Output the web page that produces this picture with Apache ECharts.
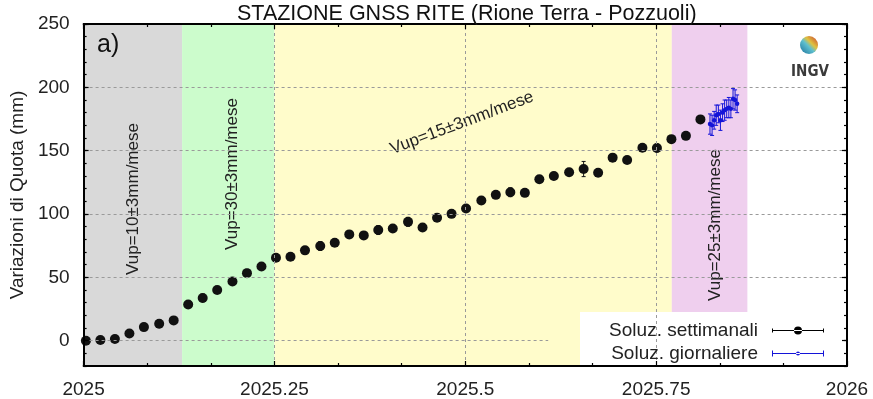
<!DOCTYPE html>
<html>
<head>
<meta charset="utf-8">
<script src="https://cdn.jsdelivr.net/npm/echarts@6/dist/echarts.min.js"></script>
<style>
  html, body { margin: 0; padding: 0; background: #fff; }
  #main { width: 873px; height: 399px; }
</style>
</head>
<body>
<div id="main"></div>
<script>
var FONT = '"Liberation Sans", Arial, sans-serif';

// soluzioni settimanali (anno decimale, mm, errore)
var weekX = [2025.003, 2025.022, 2025.041, 2025.060, 2025.079, 2025.099, 2025.118, 2025.137,
  2025.156, 2025.175, 2025.195, 2025.214, 2025.233, 2025.252, 2025.271, 2025.290, 2025.310,
  2025.329, 2025.348, 2025.367, 2025.386, 2025.405, 2025.425, 2025.444, 2025.463, 2025.482,
  2025.501, 2025.521, 2025.540, 2025.559, 2025.578, 2025.597, 2025.616, 2025.636, 2025.655,
  2025.674, 2025.693, 2025.712, 2025.732, 2025.751, 2025.770, 2025.789, 2025.808];
var weekY = [0, 0.5, 1.3, 5.7, 10.7, 13.3, 16, 28.5, 33.7, 40, 46.7, 53.3, 58.5, 65.5, 66.2,
  71.3, 74.7, 77.3, 83.9, 83.1, 87.3, 88.6, 93.8, 89.4, 97, 100.1, 104.3, 110.6, 115.1, 117.2,
  116.7, 127.4, 130, 132.9, 135.5, 132.6, 144.5, 142.7, 152.3, 152.1, 159.1, 161.7, 174.7];
var weekErr = [2.5, 2.5, 2.5, 2.5, 2.5, 3, 2.5, 2.5, 3, 2.5, 2.5, 3, 2.5, 2.5, 2.5,
  2.5, 3.5, 2.5, 2.5, 2.5, 3.5, 2.5, 3.5, 2.5, 2.5, 2.5, 2.5, 2.5, 2.5, 3.5,
  2.5, 2.5, 2.5, 2.5, 6, 2.5, 2.5, 2.5, 2.5, 3, 2.5, 2.5, 2.5];

// soluzioni giornaliere
var dayX = [2025.8205, 2025.8233, 2025.8260, 2025.8287, 2025.8315, 2025.8342, 2025.8370,
  2025.8397, 2025.8424, 2025.8452, 2025.8479, 2025.8507, 2025.8534, 2025.8561];
var dayY = [171, 170, 174, 178, 179, 174, 180, 182, 183, 184, 183, 191, 190, 187];
var dayErr = [8, 8, 7, 8, 7, 8, 7, 8, 7, 8, 7, 8, 8, 7];

// fasi di velocita'
var bandFrom = [2025, 2025.129, 2025.25, 2025.7705];
var bandTo = [2025.129, 2025.25, 2025.7705, 2025.8695];
var bandColor = ['#d9d9d9', '#ccfccc', '#fffccb', '#efcfee'];
var bandText = ['Vup=10±3mm/mese', 'Vup=30±3mm/mese', 'Vup=15±3mm/mese', 'Vup=25±3mm/mese'];

var yTicks = [0, 50, 100, 150, 200, 250];
var yGrid = [50, 100, 150, 200];
var xGrid = [2025.25, 2025.5, 2025.75];

var myChart = echarts.init(document.getElementById('main'));

function errItem(color, r, cap, lw) {
  return function (params, api) {
    var x = api.value(0), y = api.value(1), e = api.value(2);
    var p = api.coord([x, y]);
    var t = api.coord([x, y + e]);
    var b = api.coord([x, y - e]);
    var st = { stroke: color, lineWidth: lw };
    return {
      type: 'group',
      children: [
        { type: 'line', shape: { x1: p[0], y1: t[1], x2: p[0], y2: b[1] }, style: st },
        { type: 'line', shape: { x1: p[0] - cap, y1: t[1], x2: p[0] + cap, y2: t[1] }, style: st },
        { type: 'line', shape: { x1: p[0] - cap, y1: b[1], x2: p[0] + cap, y2: b[1] }, style: st },
        { type: 'circle', shape: { cx: p[0], cy: p[1], r: r }, style: { fill: color } }
      ]
    };
  };
}

var areas = [];
for (var i = 0; i < bandFrom.length; i++) {
  areas.push([{ xAxis: bandFrom[i], itemStyle: { color: bandColor[i] } }, { xAxis: bandTo[i] }]);
}
var gridLines = [];
yGrid.forEach(function (v) {
  gridLines.push([{ coord: [2025, v] }, { coord: [2026, v] }]);
});
gridLines.push([{ coord: [2025, 0] }, { coord: [2025.6086, 0] }]);
xGrid.forEach(function (v) {
  gridLines.push([{ coord: [v, -20] }, { coord: [v, 250] }]);
});

var axisLineStyle = { color: '#000', width: 2 };
function yAx(pos, major) {
  var o = {
    type: 'value', min: -20, max: 250, position: pos, z: 5,
    axisLine: { show: major, lineStyle: axisLineStyle },
    splitLine: { show: false },
    axisLabel: { show: false },
    axisTick: { inside: true, length: major ? 5 : 3, lineStyle: { color: '#000', width: 1.2 } }
  };
  if (major) {
    o.axisTick.customValues = yTicks;
  } else {
    o.interval = 10;
  }
  return o;
}
var yAxes = [yAx('left', true), yAx('left', false), yAx('right', true), yAx('right', false)];
yAxes[0].axisLabel = { show: true, customValues: yTicks, fontSize: 19, color: '#222', margin: 14, fontFamily: FONT };
yAxes[0].name = 'Variazioni di Quota (mm)';
yAxes[0].nameLocation = 'middle';
yAxes[0].nameGap = 55;
yAxes[0].nameTextStyle = { fontSize: 19, color: '#222', fontFamily: FONT };

function xAx(pos, labels) {
  return {
    type: 'value', min: 2025, max: 2026, interval: 0.25, position: pos, z: 5,
    axisLine: { show: true, onZero: false, lineStyle: axisLineStyle },
    splitLine: { show: false },
    axisTick: { inside: true, length: 5, lineStyle: { color: '#000', width: 1.2 } },
    minorTick: { show: true, splitNumber: 3, length: 3, lineStyle: { color: '#000', width: 1.2 } },
    axisLabel: { show: labels, fontSize: 19, color: '#222', margin: 14, fontFamily: FONT,
      formatter: function (v) { return String(v); } }
  };
}

var sIcon = 'path://M0,3.5h52v1h-52zM0,2h1v4h-1zM51,2h1v4h-1zM22,4a4,4 0 1,0 8,0a4,4 0 1,0 -8,0z';
var gIcon = 'path://M0,3.5h52v1h-52zM0,1h1v6h-1zM51,1h1v6h-1zM24,4a2,2 0 1,0 4,0a2,2 0 1,0 -4,0z';

option = {
  backgroundColor: '#fff',
  animation: false,
  title: {
    text: 'STAZIONE GNSS RITE (Rione Terra - Pozzuoli)',
    left: 232, top: -2,
    textStyle: { fontSize: 21.5, fontWeight: 'normal', color: '#111', fontFamily: FONT }
  },
  grid: { left: 83, right: 26, top: 24, bottom: 31 },
  xAxis: [xAx('bottom', true), xAx('top', false)],
  yAxis: yAxes,
  legend: {
    orient: 'vertical', align: 'right', right: 44, top: 316, z: 6,
    itemWidth: 52, itemHeight: 8, itemGap: 4,
    textStyle: { fontSize: 19, color: '#222', fontFamily: FONT, padding: [0, 9, 0, 0] },
    data: [
      { name: 'Soluz. settimanali', icon: sIcon },
      { name: 'Soluz. giornaliere', icon: gIcon }
    ]
  },
  graphic: [
    { type: 'rect', z: 3, shape: { x: 580, y: 312, width: 262, height: 55 }, style: { fill: '#fff' } },
    { type: 'text', z: 3, x: 97, y: 45, style: { text: 'a)', fontSize: 25, fill: '#111', fontFamily: FONT, verticalAlign: 'middle' } },
    { type: 'text', z: 3, x: 133, y: 199, rotation: Math.PI / 2, style: { text: bandText[0], fontSize: 17, fill: '#222', fontFamily: FONT, align: 'center', verticalAlign: 'middle' } },
    { type: 'text', z: 3, x: 232, y: 174, rotation: Math.PI / 2, style: { text: bandText[1], fontSize: 17, fill: '#222', fontFamily: FONT, align: 'center', verticalAlign: 'middle' } },
    { type: 'text', z: 3, x: 462, y: 123, rotation: 0.36, style: { text: bandText[2], fontSize: 17, fill: '#222', fontFamily: FONT, align: 'center', verticalAlign: 'middle' } },
    { type: 'text', z: 3, x: 715, y: 225, rotation: Math.PI / 2, style: { text: bandText[3], fontSize: 17, fill: '#222', fontFamily: FONT, align: 'center', verticalAlign: 'middle' } },
    { type: 'circle', z: 3, shape: { cx: 809, cy: 45, r: 9 },
      style: { fill: new echarts.graphic.LinearGradient(0, 1, 1, 0, [
        { offset: 0, color: '#1b6f9a' }, { offset: 0.45, color: '#5fc0cf' },
        { offset: 0.62, color: '#e0c23f' }, { offset: 1, color: '#c7392f' }]) } },
    { type: 'text', z: 3, x: 810, y: 72, style: { text: 'INGV', fontSize: 15, fontWeight: 'bold', fill: '#3a3a3a', fontFamily: '"DejaVu Sans Condensed", sans-serif', align: 'center', verticalAlign: 'middle' } }
  ],
  series: [
    {
      name: 'fasi', type: 'scatter', data: [], z: 1, silent: true,
      markArea: { silent: true, data: areas }
    },
    {
      name: 'griglia', type: 'scatter', data: [], z: 2, silent: true,
      markLine: {
        silent: true, symbol: 'none', label: { show: false },
        lineStyle: { color: '#9a9a9a', type: [3, 3], width: 1 },
        data: gridLines
      }
    },
    {
      name: 'Soluz. settimanali', type: 'custom', z: 4,
      itemStyle: { color: '#000' },
      renderItem: errItem('#111', 5, 2, 1),
      data: weekX.map(function (x, i) { return [x, weekY[i], weekErr[i]]; })
    },
    {
      name: 'Soluz. giornaliere', type: 'custom', z: 4,
      itemStyle: { color: '#1414d8' },
      renderItem: errItem('#1414d8', 2.2, 2, 1),
      data: dayX.map(function (x, i) { return [x, dayY[i], dayErr[i]]; })
    }
  ]
};
myChart.setOption(option);
</script>
</body>
</html>
